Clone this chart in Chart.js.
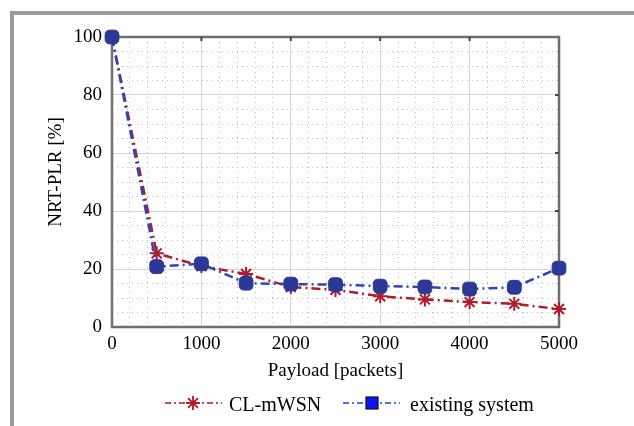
<!DOCTYPE html>
<html>
<head>
<meta charset="utf-8">
<script src="https://cdn.jsdelivr.net/npm/chart.js@4.4.1/dist/chart.umd.min.js"></script>
<style>
  html, body { margin: 0; padding: 0; background: #fff; }
  #wrap { position: relative; width: 634px; height: 426px; overflow: hidden; }
  #frame { position: absolute; left: 10px; top: 11px; right: -10px; bottom: -10px;
           border-top: 4px solid #9b9b9b; border-left: 4px solid #9b9b9b; }
  canvas { position: absolute; left: 0; top: 0; }
</style>
</head>
<body>
<div id="wrap">
  <div id="frame"></div>
  <canvas id="chart" width="634" height="426"></canvas>
</div>
<script>
// payload values (packets)
const payload = [0, 500, 1000, 1500, 2000, 2500, 3000, 3500, 4000, 4500, 5000];
// NRT-PLR [%]
const clMwsn = [100, 25.4, 21, 18.3, 13.8, 12.8, 10.6, 9.5, 8.6, 8, 6.2];
const existing = [100, 20.8, 21.8, 15.1, 14.8, 14.6, 14.1, 13.8, 13.1, 13.7, 20.3];

const xMajorTicks = [0, 1000, 2000, 3000, 4000, 5000];
const yMajorTicks = [0, 20, 40, 60, 80, 100];

const FONT = '"Liberation Serif", "Times New Roman", serif';
const RED = '#b01c2a';
const BLUE_LINE = '#2f45b8';
const BLUE_MARK = '#2b3896';

function toPoints(ys) {
    return payload.map((x, i) => ({ x: x, y: ys[i] }));
}

// box around the plot + small inward ticks on top and right
const boxPlugin = {
    id: 'box',
    beforeDatasetsDraw(chart) {
        const { ctx, chartArea: a, scales } = chart;
        ctx.save();
        ctx.strokeStyle = '#6e6e6e';
        ctx.lineWidth = 2.5;
        ctx.strokeRect(a.left, a.top, a.right - a.left, a.bottom - a.top);
        ctx.lineWidth = 2;
        ctx.strokeStyle = '#444';
        xMajorTicks.slice(1, -1).forEach(v => {
            const px = scales.x.getPixelForValue(v);
            ctx.beginPath();
            ctx.moveTo(px, a.top);
            ctx.lineTo(px, a.top + 4);
            ctx.stroke();
        });
        yMajorTicks.slice(1, -1).forEach(v => {
            const py = scales.y.getPixelForValue(v);
            ctx.beginPath();
            ctx.moveTo(a.right, py);
            ctx.lineTo(a.right - 4, py);
            ctx.stroke();
        });
        ctx.restore();
    }
};

// y axis title and legend below the x axis title
const textPlugin = {
    id: 'extraText',
    afterDraw(chart) {
        const ctx = chart.ctx;
        ctx.save();
        ctx.font = '19px ' + FONT;
        ctx.fillStyle = '#000';
        ctx.translate(56, 172);
        ctx.rotate(-Math.PI / 2);
        ctx.textAlign = 'center';
        ctx.textBaseline = 'middle';
        ctx.fillText('NRT-PLR [%]', 0, 0);
        ctx.restore();

        const y = 403;
        ctx.save();
        ctx.font = '20px ' + FONT;
        ctx.fillStyle = '#000';
        ctx.textBaseline = 'alphabetic';

        // CL-mWSN
        ctx.strokeStyle = '#b3141c';
        ctx.lineWidth = 1.5;
        ctx.setLineDash([6, 3, 2, 3]);
        ctx.beginPath(); ctx.moveTo(165, y); ctx.lineTo(222, y); ctx.stroke();
        ctx.setLineDash([]);
        ctx.lineWidth = 1.8;
        const sx = 193, r = 7;
        for (let k = 0; k < 4; k++) {
            const ang = k * Math.PI / 4;
            ctx.beginPath();
            ctx.moveTo(sx - r * Math.cos(ang), y - r * Math.sin(ang));
            ctx.lineTo(sx + r * Math.cos(ang), y + r * Math.sin(ang));
            ctx.stroke();
        }
        ctx.fillText('CL-mWSN', 229, 411);

        // existing system
        ctx.strokeStyle = '#1f3cf0';
        ctx.lineWidth = 1.5;
        ctx.setLineDash([6, 3, 2, 3]);
        ctx.beginPath(); ctx.moveTo(343, y); ctx.lineTo(400, y); ctx.stroke();
        ctx.setLineDash([]);
        ctx.fillStyle = '#0a14ff';
        ctx.fillRect(366, y - 6, 12, 12);
        ctx.strokeStyle = '#111';
        ctx.lineWidth = 1.2;
        ctx.strokeRect(366, y - 6, 12, 12);
        ctx.fillStyle = '#000';
        ctx.fillText('existing system', 410, 411);
        ctx.restore();
    }
};

const minorBorder = { display: false, dash: [1, 4] };
const zeroSize = s => { s.width = 0; s.height = 0; };

new Chart(document.getElementById('chart'), {
    type: 'line',
    data: {
        datasets: [{
            label: 'CL-mWSN',
            data: toPoints(clMwsn),
            borderColor: RED,
            borderWidth: 2.5,
            borderDash: [9, 4, 2, 4],
            pointStyle: 'star',
            pointRadius: 7,
            pointBorderWidth: 2,
            pointBorderColor: RED,
            pointBackgroundColor: RED,
            order: 2,
            clip: false
        }, {
            label: 'existing system',
            data: toPoints(existing),
            borderColor: BLUE_LINE,
            borderWidth: 2.5,
            borderDash: [9, 4, 2, 4],
            pointStyle: 'rectRounded',
            pointRadius: 8,
            pointBorderWidth: 1,
            pointBorderColor: BLUE_MARK,
            pointBackgroundColor: BLUE_MARK,
            order: 1,
            clip: false
        }]
    },
    options: {
        responsive: false,
        animation: false,
        layout: { padding: { left: 0, top: 37, right: 75, bottom: 0 } },
        plugins: { legend: { display: false }, tooltip: { enabled: false } },
        scales: {
            xMinor: {
                type: 'linear', position: 'bottom', min: 0, max: 5000,
                ticks: { display: false, stepSize: 200 },
                grid: { color: '#bdbdbd', drawTicks: false, lineWidth: 1 },
                border: minorBorder,
                afterFit: zeroSize
            },
            yMinor: {
                type: 'linear', position: 'left', min: 0, max: 100,
                ticks: { display: false, stepSize: 5 },
                grid: { color: '#bdbdbd', drawTicks: false, lineWidth: 1 },
                border: minorBorder,
                afterFit: zeroSize
            },
            x: {
                type: 'linear',
                position: 'bottom',
                min: 0, max: 5000,
                afterBuildTicks: s => { s.ticks = xMajorTicks.map(v => ({ value: v })); },
                ticks: { color: '#000', padding: 6, font: { family: FONT, size: 19 },
                         callback: v => String(v) },
                grid: { color: '#d6d6d6', drawTicks: false, lineWidth: 1 },
                border: { display: false },
                title: { display: true, text: 'Payload [packets]', color: '#000',
                         font: { family: FONT, size: 19 }, padding: { top: 0, bottom: 44 } },
                afterFit: s => { s.height = 99; }
            },
            y: {
                type: 'linear',
                position: 'left',
                min: 0, max: 100,
                afterBuildTicks: s => { s.ticks = yMajorTicks.map(v => ({ value: v })); },
                ticks: { color: '#000', padding: 10, font: { family: FONT, size: 19 },
                         callback: v => String(v) },
                grid: { color: '#d6d6d6', drawTicks: false, lineWidth: 1 },
                border: { display: false },
                afterFit: s => { s.width = 112; }
            }
        }
    },
    plugins: [boxPlugin, textPlugin]
});
</script>
</body>
</html>
